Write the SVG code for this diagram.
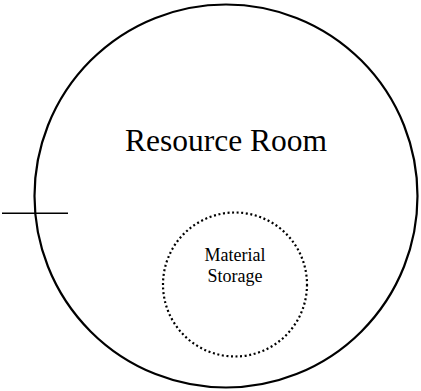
<svg xmlns="http://www.w3.org/2000/svg" width="421" height="391" viewBox="0 0 421 391">
  <style>
    .room { fill: none; stroke: #000; stroke-width: 2.2; }
    .store { fill: none; stroke: #000; stroke-width: 2.2; stroke-dasharray: 2 2.6; }
    .label { font-family: "Liberation Serif", "Times New Roman", serif; fill: #000; text-anchor: middle; }
    .conn { stroke: #000; stroke-width: 1.6; fill: none; }
  </style>
  <rect width="421" height="391" fill="#fff"/>

  <!-- outer room -->
  <g id="resource-room">
    <circle class="room" cx="226" cy="196" r="191.5"/>
    <text class="label" x="226" y="151" font-size="31.5">Resource Room</text>
  </g>

  <!-- storage area inside the room -->
  <g id="material-storage">
    <circle class="store" cx="235" cy="284.5" r="72"/>
    <text class="label" x="235" y="260.5" font-size="18">Material</text>
    <text class="label" x="235" y="281.5" font-size="18">Storage</text>
  </g>

  <!-- entrance line -->
  <g id="connectors">
    <line class="conn" x1="2" y1="213.3" x2="68" y2="213.3"/>
  </g>
</svg>
